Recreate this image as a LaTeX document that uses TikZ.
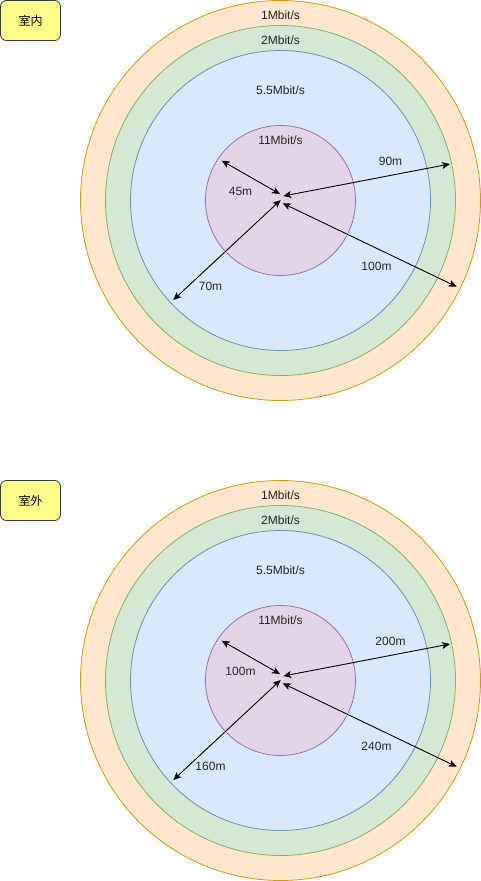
\documentclass[tikz,border=0pt]{standalone}
\usepackage{fontspec}
\setmainfont{Liberation Sans}
\newfontfamily\cjk{Noto Sans CJK SC}
\usetikzlibrary{arrows.meta}
\definecolor{oF}{HTML}{FFE6CC}\definecolor{oS}{HTML}{D79B00}
\definecolor{gF}{HTML}{D5E8D4}\definecolor{gS}{HTML}{82B366}
\definecolor{bF}{HTML}{DAE8FC}\definecolor{bS}{HTML}{6C8EBF}
\definecolor{pF}{HTML}{E1D5E7}\definecolor{pS}{HTML}{9673A6}
\definecolor{yF}{HTML}{FFFF88}\definecolor{yS}{HTML}{36393D}
\tikzset{
  ring/.style={circle,inner sep=0pt,line width=0.8pt},
  txt/.style={font=\fontsize{12}{14}\selectfont,inner sep=0pt,text=black!85},
  tag/.style={draw=yS,fill=yF,rounded corners=6pt,minimum width=60pt,minimum height=40pt,line width=0.8pt,font=\cjk\fontsize{12}{14}\selectfont},
  dim/.style={line width=0.9pt,{Stealth[length=8pt,width=7pt,inset=2pt]}-{Stealth[length=8pt,width=7pt,inset=2pt]}},
}
\newcommand\panel[6]{%
\begin{scope}[yshift=-#1pt]
  \node[tag] (box#1) at (30.5,20.5) {#2};
  \node[ring,draw=oS,fill=oF,minimum size=400pt] (c1#1) at (280.5,200.5) {};
  \node[ring,draw=gS,fill=gF,minimum size=350pt] (c2#1) at (280.5,200.5) {};
  \node[ring,draw=bS,fill=bF,minimum size=300pt] (c3#1) at (280.5,200.5) {};
  \node[ring,draw=pS,fill=pF,minimum size=150pt] (c4#1) at (280.5,200.5) {};
  \node[txt] (l1#1) at (280.5,15) {1Mbit/s};
  \node[txt] (l2#1) at (280.5,40) {2Mbit/s};
  \node[txt] (l3#1) at (280.5,90) {5.5Mbit/s};
  \node[txt] (l4#1) at (280.5,140) {11Mbit/s};
  \coordinate (a1#1) at (221.7,160.7); \coordinate (b1#1) at (280,194);
  \coordinate (a2#1) at (450,164);   \coordinate (b2#1) at (283.3,196);
  \coordinate (a3#1) at (173.3,300); \coordinate (b3#1) at (280.7,200);
  \coordinate (a4#1) at (456.7,286.7); \coordinate (b4#1) at (282.7,203.3);
  \draw[dim] (a1#1) -- (b1#1);
  \draw[dim] (a2#1) -- (b2#1);
  \draw[dim] (a3#1) -- (b3#1);
  \draw[dim] (a4#1) -- (b4#1);
  \node[txt] (d1#1) at (240.5,191) {#3};
  \node[txt] (d2#1) at (390.5,161) {#4};
  \node[txt] (d3#1) at (210.5,286) {#5};
  \node[txt] (d4#1) at (376.5,266) {#6};
\end{scope}}
\begin{document}
\begin{tikzpicture}[x=1pt,y=-1pt]
\useasboundingbox (0,0) rectangle (481,881);
\panel{0}{室内}{45m}{90m}{70m}{100m}
\panel{480}{室外}{100m}{200m}{160m}{240m}
\end{tikzpicture}
\end{document}
